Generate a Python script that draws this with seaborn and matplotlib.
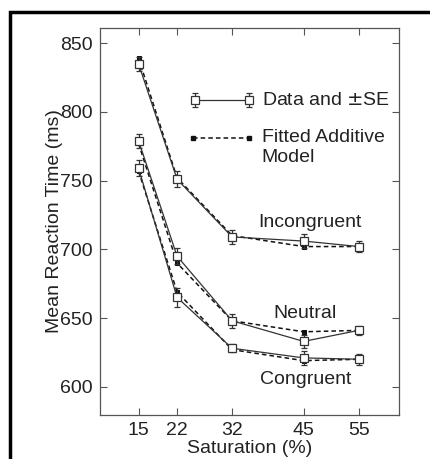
import numpy as np
import pandas as pd
import seaborn as sns
import matplotlib.pyplot as plt
from matplotlib.patches import Rectangle

saturation = [15, 22, 32, 45, 55]
conditions = ["Incongruent", "Neutral", "Congruent"]
data_rt = {
    "Incongruent": [835, 751, 709, 706, 702],
    "Neutral": [779, 695, 648, 633, 641],
    "Congruent": [759, 665, 628, 621, 620],
}
model_rt = {
    "Incongruent": [839, 752, 710, 702, 702],
    "Neutral": [777, 690, 648, 640, 641],
    "Congruent": [757, 669, 627, 619, 620],
}
se_rt = {
    "Incongruent": [5, 6, 5, 5, 4],
    "Neutral": [5, 6, 5, 5, 3],
    "Congruent": [6, 7, 3, 5, 4],
}

rows = []
for c in conditions:
    for s, d, m in zip(saturation, data_rt[c], model_rt[c]):
        rows.append({"sat": s, "cond": c, "data": d, "model": m})
df = pd.DataFrame(rows)

sns.set_theme(style="ticks")
plt.rcParams['font.family'] = ['Liberation Sans', 'DejaVu Sans']
txt = "#222222"
grey = "#555555"
fs = 14

fig = plt.figure(figsize=(4.3, 4.59), dpi=100)
ax = fig.add_axes([0.2326, 0.096, 0.695, 0.843])

for c in conditions:
    sub = df[df.cond == c]
    sns.lineplot(data=sub, x="sat", y="model", ax=ax, color="#111111", lw=1.1,
                 linestyle=(0, (3, 2)), marker="s", markersize=3.5,
                 markeredgecolor="#111111", markerfacecolor="#111111")
    ax.errorbar(saturation, data_rt[c], yerr=se_rt[c], fmt="none", ecolor="#333333",
                elinewidth=0.9, capsize=2.5, capthick=0.9)
    sns.lineplot(data=sub, x="sat", y="data", ax=ax, color="#333333", lw=0.9,
                 marker="s", markersize=5.5, markerfacecolor="white",
                 markeredgecolor="#333333", markeredgewidth=0.9)

ax.set_xlim(8, 62.3)
ax.set_ylim(579.5, 861)
ax.set_xticks(saturation)
ax.set_yticks([600, 650, 700, 750, 800, 850])
ax.tick_params(direction="in", top=True, right=True, length=5, width=0.8,
               colors=grey, labelcolor=txt, labelsize=fs, pad=5)
for sp in ax.spines.values():
    sp.set_color(grey)
    sp.set_linewidth(0.9)
ax.set_xlabel("Saturation (%)", fontsize=fs, color=txt, labelpad=1)
ax.set_ylabel("Mean Reaction Time (ms)", fontsize=fs, color=txt, labelpad=-2)

ax.text(46.2, 719.5, "Incongruent", fontsize=fs, color=txt, ha="center", va="center")
ax.text(45.3, 653.5, "Neutral", fontsize=fs, color=txt, ha="center", va="center")
ax.text(45.3, 605, "Congruent", fontsize=fs, color=txt, ha="center", va="center")

# legend drawn by hand
ax.errorbar([25.3, 35.1], [808.5, 808.5], yerr=5, color="#333333", lw=0.9, capsize=2.5,
            capthick=0.9, marker="s", markersize=5.5, markerfacecolor="white",
            markeredgecolor="#333333", markeredgewidth=0.9)
ax.text(37.4, 808.5, "Data and $\\pm$SE", fontsize=fs, color=txt, va="center")
ax.plot([24.9, 35.1], [781, 781], color="#111111", lw=1.1, linestyle=(0, (3, 2)),
        marker="s", markersize=3.5, markerfacecolor="#111111", markeredgecolor="#111111")
ax.text(37.4, 781, "Fitted Additive", fontsize=fs, color=txt, va="center")
ax.text(37.4, 767, "Model", fontsize=fs, color=txt, va="center")

fig.patches.append(Rectangle((0.0233, -0.2), 1.2, 1.174, transform=fig.transFigure,
                             fill=False, edgecolor="black", lw=2.5))

fig.savefig("out.png", dpi=100)
